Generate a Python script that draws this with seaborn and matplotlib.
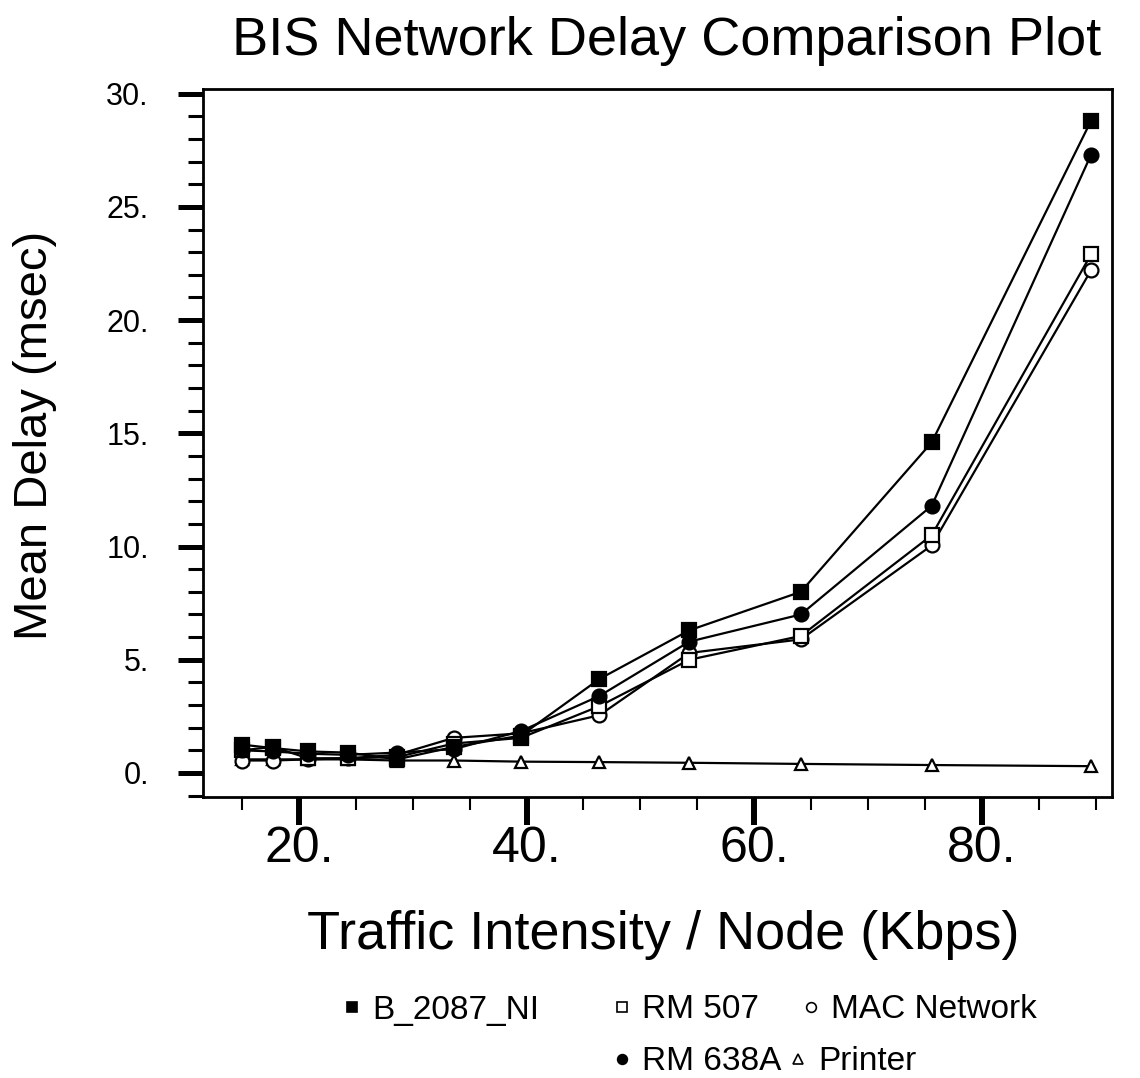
import matplotlib
matplotlib.use("Agg")
import matplotlib.pyplot as plt
import pandas as pd
import seaborn as sns
from matplotlib.lines import Line2D
from matplotlib.ticker import FixedLocator, MultipleLocator, FuncFormatter

# Traffic intensity per node (Kbps)
traffic = [15.0, 17.7, 20.8, 24.3, 28.6, 33.6, 39.5, 46.4, 54.3, 64.1, 75.6, 89.6]

# Mean delay (msec) for each network segment
b_2087_ni = [1.25, 1.1, 0.95, 0.9, 0.6, 1.15, 1.65, 4.15, 6.3, 8.0, 14.6, 28.8]
rm_638a = [1.0, 0.95, 0.85, 0.8, 0.9, 1.05, 1.85, 3.4, 5.8, 7.0, 11.8, 27.3]
rm_507 = [1.0, 1.15, 0.65, 0.65, 0.7, 1.3, 1.55, 2.95, 5.0, 6.05, 10.5, 22.9]
mac_network = [0.55, 0.55, 0.6, 0.65, 0.8, 1.55, 1.75, 2.55, 5.3, 5.9, 10.05, 22.2]
printer = [0.6, 0.6, 0.6, 0.6, 0.55, 0.55, 0.5, 0.48, 0.45, 0.4, 0.35, 0.3]

series = {
    "Printer": printer,
    "MAC Network": mac_network,
    "RM 507": rm_507,
    "RM 638A": rm_638a,
    "B_2087_NI": b_2087_ni,
}

marker_style = {
    "B_2087_NI": ("s", "black"),
    "RM 507": ("s", "white"),
    "MAC Network": ("o", "white"),
    "RM 638A": ("o", "black"),
    "Printer": ("^", "white"),
}

df = pd.concat(
    [pd.DataFrame({"traffic": traffic, "delay": vals, "segment": name})
     for name, vals in series.items()],
    ignore_index=True,
)

sns.set_theme(style="white")
plt.rcParams["font.family"] = ["Liberation Sans", "DejaVu Sans"]
plt.rcParams["text.color"] = "black"
plt.rcParams["axes.labelcolor"] = "black"
plt.rcParams["xtick.color"] = "black"
plt.rcParams["ytick.color"] = "black"

fig = plt.figure(figsize=(11.4, 10.78), dpi=100)
ax = fig.add_axes([0.178, 0.2607, 0.797, 0.657])

for name in series:
    mk, fc = marker_style[name]
    sub = df[df["segment"] == name]
    sns.lineplot(
        data=sub, x="traffic", y="delay", ax=ax, color="black",
        linewidth=1.6, marker=mk, markersize=9 if mk == "^" else 10,
        markerfacecolor=fc, markeredgecolor="black", markeredgewidth=1.6,
        legend=False,
    )

ax.set_xlim(11.56, 91.4)
ax.set_ylim(-1.06, 30.22)

ax.xaxis.set_major_locator(FixedLocator([20, 40, 60, 80]))
ax.xaxis.set_minor_locator(MultipleLocator(5))
ax.yaxis.set_major_locator(MultipleLocator(5))
ax.yaxis.set_minor_locator(MultipleLocator(1))
dot_fmt = FuncFormatter(lambda v, _: f"{v:.0f}.")
ax.xaxis.set_major_formatter(dot_fmt)
ax.yaxis.set_major_formatter(dot_fmt)

ax.tick_params(axis="x", which="major", bottom=True, direction="out",
               length=20, width=4.3, labelsize=36, pad=1)
ax.tick_params(axis="x", which="minor", bottom=True, direction="out",
               length=9.4, width=1.5)
ax.tick_params(axis="y", which="major", left=True, direction="out",
               length=18, width=3.6, labelsize=22, pad=21)
ax.tick_params(axis="y", which="minor", left=True, direction="out",
               length=10.8, width=2.2)

for side in ["left", "right", "top", "bottom"]:
    ax.spines[side].set_color("black")
    ax.spines[side].set_linewidth(2.0)
ax.grid(False)

ax.set_xlabel("Traffic Intensity / Node (Kbps)", fontsize=39, va="center")
ax.xaxis.set_label_coords(0.507, -0.195)
ax.set_ylabel("Mean Delay (msec)", fontsize=34, va="center")
ax.yaxis.set_label_coords(-0.185, 0.511)

fig.text(0.585, 0.962, "BIS Network Delay Comparison Plot",
         fontsize=39, ha="center", va="center")

# Legend entries, each placed on its own: (name, marker centre x px, row y px)
W, H = 1140, 1078
legend_spots = [
    ("B_2087_NI", 352, 1010),
    ("RM 507", 622, 1010),
    ("MAC Network", 811, 1010),
    ("RM 638A", 622, 1062),
    ("Printer", 798, 1062),
]
for name, mx, my in legend_spots:
    mk, fc = marker_style[name]
    h = Line2D([], [], linestyle="none", marker=mk, markersize=7,
               markerfacecolor=fc, markeredgecolor="black",
               markeredgewidth=1.2)
    fig.legend([h], [name], loc="center left",
               bbox_to_anchor=((mx - 8.3) / W, 1 - my / H),
               frameon=False, fontsize=24, handlelength=0.5,
               handletextpad=0.35, borderpad=0, borderaxespad=0)

fig.savefig("out.png", dpi=100)
